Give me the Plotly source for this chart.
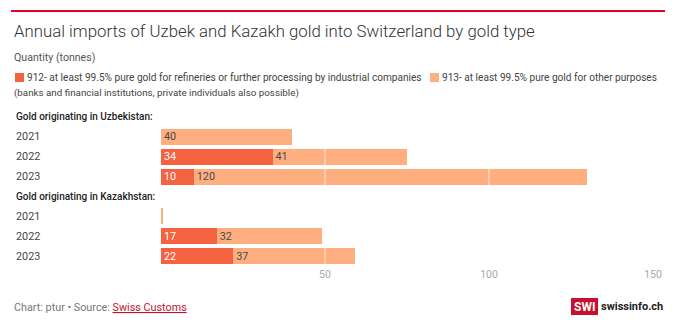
import plotly.graph_objects as go

# ---- data ----
years = ["2021", "2022", "2023"]
uz_912 = [0, 34, 10]
uz_913 = [40, 41, 120]
kz_912 = [0, 17, 22]
kz_913 = [0.5, 32, 37]
groups = ["Gold originating in Uzbekistan:", "Gold originating in Kazakhstan:"]
series_names = ["912- at least 99.5% pure gold for refineries or further processing by industrial companies",
                "913- at least 99.5% pure gold for other purposes"]
legend_line2 = "(banks and financial institutions, private individuals also possible)"
x_ticks = [50, 100, 150]

C912 = "#f4623f"
C913 = "#ffae7f"
FONT = "Roboto"

W, H = 680, 327
ML, MR, MT, MB = 161, 27, 107, 61
PW, PH = W - ML - MR, H - MT - MB

def px(x):
    return (x - ML) / PW

def py(y):
    return (H - MB - y) / PH

# category rows
rows = []
row_labels = []
for g, pref in zip(groups, ["U", "K"]):
    rows.append(g)
    row_labels.append((g, True))
    for yv in years:
        rows.append(pref + yv)
        row_labels.append((yv, False))

def lab(vals):
    return [("" if v < 1 else str(v)) for v in vals]

fig = go.Figure()
for pref, v912, v913 in [("U", uz_912, uz_913), ("K", kz_912, kz_913)]:
    ycat = [pref + yv for yv in years]
    fig.add_trace(go.Bar(y=ycat, x=v912, orientation="h", marker=dict(color=C912, line=dict(width=0)),
                         text=lab(v912), textposition="inside", insidetextanchor="start",
                         textangle=0, constraintext="none",
                         textfont=dict(color="white", size=10.8, family=FONT), showlegend=False,
                         hoverinfo="skip"))
    fig.add_trace(go.Bar(y=ycat, x=v913, orientation="h", marker=dict(color=C913, line=dict(width=0)),
                         text=lab(v913), textposition="inside", insidetextanchor="start",
                         textangle=0, constraintext="none",
                         textfont=dict(color="#4a4a4a", size=10.8, family=FONT), showlegend=False,
                         hoverinfo="skip"))

annotations = []
for cat, (txt, hdr) in zip(rows, row_labels):
    annotations.append(dict(xref="paper", yref="y", x=px(14), y=cat, xanchor="left", yanchor="middle",
                            text=txt, showarrow=False,
                            font=dict(family=FONT, size=10.8 if not hdr else 10,
                                      color="#222" if hdr else "#444",
                                      weight=500 if hdr else 400)))

# title, subtitle
annotations.append(dict(xref="paper", yref="paper", x=px(12), y=py(31), xanchor="left", yanchor="middle",
                        text="Annual imports of Uzbek and Kazakh gold into Switzerland by gold type",
                        showarrow=False, font=dict(family=FONT, size=16.8, color="#333", weight=300)))
annotations.append(dict(xref="paper", yref="paper", x=px(12), y=py(57), xanchor="left", yanchor="middle",
                        text="Quantity (tonnes)", showarrow=False,
                        font=dict(family=FONT, size=10.6, color="#555")))
# legend texts
annotations.append(dict(xref="paper", yref="paper", x=px(25), y=py(77.5), xanchor="left", yanchor="middle",
                        text=series_names[0], showarrow=False, font=dict(family=FONT, size=10.1, color="#444")))
annotations.append(dict(xref="paper", yref="paper", x=px(440), y=py(77.5), xanchor="left", yanchor="middle",
                        text=series_names[1], showarrow=False, font=dict(family=FONT, size=10.1, color="#444")))
annotations.append(dict(xref="paper", yref="paper", x=px(12), y=py(93), xanchor="left", yanchor="middle",
                        text=legend_line2, showarrow=False, font=dict(family=FONT, size=9.8, color="#444")))
# footer
annotations.append(dict(xref="paper", yref="paper", x=px(12), y=py(307), xanchor="left", yanchor="middle",
                        text="Chart: ptur • Source: <span style='color:#c8102e'><u>Swiss Customs</u></span>",
                        showarrow=False, font=dict(family=FONT, size=10.8, color="#777")))
annotations.append(dict(xref="paper", yref="paper", x=px(584.5), y=py(306.5), xanchor="center", yanchor="middle",
                        text="<b>SWI</b>", showarrow=False, font=dict(family=FONT, size=12, color="white")))
annotations.append(dict(xref="paper", yref="paper", x=px(599), y=py(306.5), xanchor="left", yanchor="middle",
                        text="<b>swissinfo.ch</b>", showarrow=False, font=dict(family=FONT, size=11, color="#222")))

shapes = []
# top red line
shapes.append(dict(type="line", xref="paper", yref="paper", x0=px(11), x1=px(665), y0=py(11), y1=py(11),
                   line=dict(color="#e4002b", width=2)))
# legend swatches
shapes.append(dict(type="rect", xref="paper", yref="paper", x0=px(15), x1=px(24), y0=py(82), y1=py(73),
                   fillcolor=C912, line=dict(width=0)))
shapes.append(dict(type="rect", xref="paper", yref="paper", x0=px(430), x1=px(439), y0=py(82), y1=py(73),
                   fillcolor=C913, line=dict(width=0)))
# SWI box
shapes.append(dict(type="rect", xref="paper", yref="paper", x0=px(571), x1=px(598), y0=py(315), y1=py(298),
                   fillcolor="#c8102e", line=dict(width=0), layer="below"))
# white gridlines above bars
for t in x_ticks[:-1]:
    shapes.append(dict(type="line", xref="x", yref="paper", x0=t, x1=t, y0=0, y1=1,
                       line=dict(color="rgba(255,255,255,0.75)", width=1), layer="above"))

fig.update_layout(
    width=W, height=H, margin=dict(l=ML, r=MR, t=MT, b=MB),
    barmode="stack", bargap=0.2,
    plot_bgcolor="white", paper_bgcolor="white",
    xaxis=dict(range=[0, 150], tickvals=x_ticks, showgrid=False, zeroline=False, showline=False,
               ticks="", tickfont=dict(family=FONT, size=10.5, color="#aaa"), fixedrange=True),
    yaxis=dict(type="category", categoryorder="array", categoryarray=rows, range=[len(rows) - 0.5, -0.5],
               showticklabels=False, showgrid=False, zeroline=False, ticks="", fixedrange=True),
    annotations=annotations, shapes=shapes, showlegend=False,
    font=dict(family=FONT),
)

fig.write_html("out.html")
